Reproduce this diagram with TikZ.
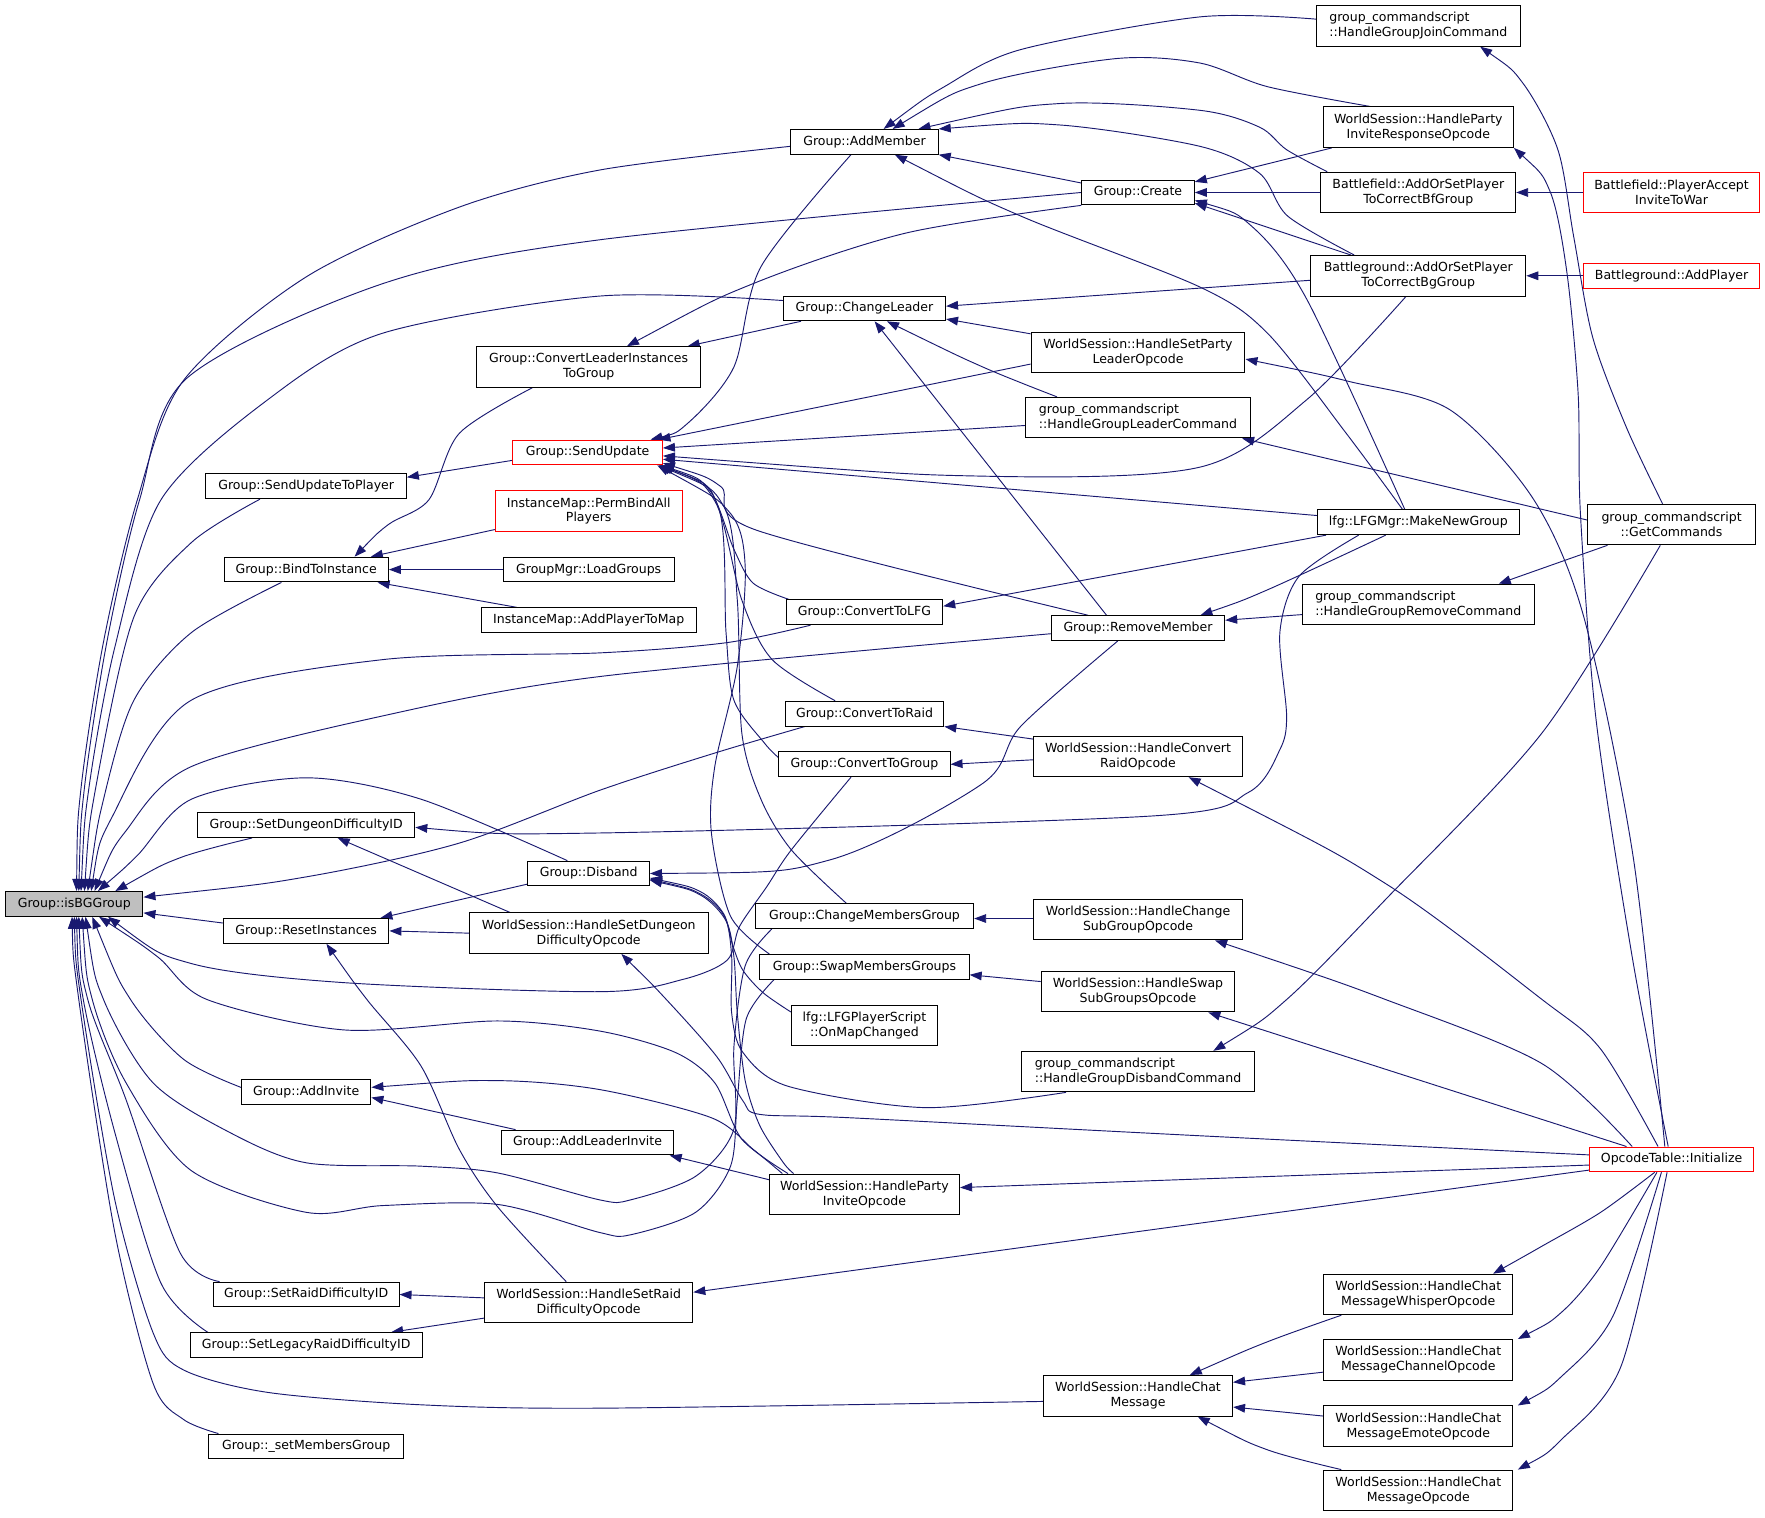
\documentclass[tikz,border=0pt]{standalone}
\usepackage{fontspec}
\setmainfont{DejaVu Sans}
\usetikzlibrary{arrows.meta,calc,backgrounds}
\definecolor{edgeblue}{HTML}{191970}
\definecolor{boxred}{HTML}{FF0000}
\newdimen\unitlen
\unitlen=0.8443pt

\tikzset{
  box/.style={draw=black, line width=0.75pt, fill=white, inner sep=0pt,
    minimum height=22\unitlen, font=\fontsize{9.4}{11.2}\selectfont},
  box2/.style={box, minimum height=36\unitlen, align=center},
  boxl/.style={box, minimum height=36\unitlen, align=left},
  redbox/.style={draw=boxred},
  call/.style={draw=edgeblue, line width=0.7pt, {Triangle[length=9pt,width=6.5pt]}-},
}

\begin{document}
\begin{tikzpicture}[x=0.8443pt, y=-0.8443pt]
  \useasboundingbox (0,0) rectangle (1568,1348);

  % the function itself
  \node[box, fill=black!25, minimum width=122\unitlen] (isBG) at (66,803) {Group::isBGGroup};

  % first level
  \node[box, minimum width=178\unitlen] (sutp) at (272,432) {Group::SendUpdateToPlayer};
  \node[box, minimum width=146\unitlen] (bti) at (272,506) {Group::BindToInstance};
  \node[box, minimum width=193\unitlen] (sddi) at (272,733) {Group::SetDungeonDifficultyID};
  \node[box, minimum width=147\unitlen] (ri) at (272,827) {Group::ResetInstances};
  \node[box, minimum width=115\unitlen] (ai) at (272,970) {Group::AddInvite};
  \node[box, minimum width=165\unitlen] (srdi) at (272,1150) {Group::SetRaidDifficultyID};
  \node[box, minimum width=206\unitlen] (slrdi) at (272,1195) {Group::SetLegacyRaidDifficultyID};
  \node[box, minimum width=173\unitlen] (smg) at (272,1285) {Group::\_setMembersGroup};

  % second level
  \node[box2, minimum width=199\unitlen] (clitg) at (523,326) {Group::ConvertLeaderInstances\\ToGroup};
  \node[box, redbox, minimum width=133\unitlen] (su) at (522,402) {Group::SendUpdate};
  \node[box2, redbox, minimum width=166\unitlen] (pbap) at (523,454) {InstanceMap::PermBindAll\\Players};
  \node[box, minimum width=152\unitlen] (lg) at (523,506) {GroupMgr::LoadGroups};
  \node[box, minimum width=191\unitlen] (aptm) at (523,551) {InstanceMap::AddPlayerToMap};
  \node[box, minimum width=108\unitlen] (disb) at (523,776) {Group::Disband};
  \node[box2, minimum width=212\unitlen] (hsddo) at (523,829) {WorldSession::HandleSetDungeon\\DifficultyOpcode};
  \node[box, minimum width=153\unitlen] (ali) at (522,1015) {Group::AddLeaderInvite};
  \node[box2, minimum width=185\unitlen] (hsrdo) at (523,1157) {WorldSession::HandleSetRaid\\DifficultyOpcode};

  % third level
  \node[box, minimum width=131\unitlen] (am) at (768,126) {Group::AddMember};
  \node[box, minimum width=144\unitlen] (cl) at (768,274) {Group::ChangeLeader};
  \node[box, minimum width=139\unitlen] (ctlfg) at (768,544) {Group::ConvertToLFG};
  \node[box, minimum width=141\unitlen] (ctr) at (768,634) {Group::ConvertToRaid};
  \node[box, minimum width=152\unitlen] (ctg) at (768,679) {Group::ConvertToGroup};
  \node[box, minimum width=194\unitlen] (cmg) at (768,814) {Group::ChangeMembersGroup};
  \node[box, minimum width=186\unitlen] (smgs) at (768,859) {Group::SwapMembersGroups};
  \node[box2, minimum width=130\unitlen] (lfgps) at (768,911) {lfg::LFGPlayerScript\\::OnMapChanged};
  \node[box2, minimum width=169\unitlen] (hpio) at (768,1061) {WorldSession::HandleParty\\InviteOpcode};

  % fourth level
  \node[box, minimum width=100\unitlen] (cr) at (1011,171) {Group::Create};
  \node[box2, minimum width=190\unitlen] (hsplo) at (1011,313) {WorldSession::HandleSetParty\\LeaderOpcode};
  \node[boxl, minimum width=200\unitlen] (hglc) at (1011,371) {group\_commandscript\\::HandleGroupLeaderCommand};
  \node[box, minimum width=154\unitlen] (rm) at (1011,558) {Group::RemoveMember};
  \node[box2, minimum width=186\unitlen] (hcro) at (1011,672) {WorldSession::HandleConvert\\RaidOpcode};
  \node[box2, minimum width=186\unitlen] (hcsgo) at (1011,817) {WorldSession::HandleChange\\SubGroupOpcode};
  \node[box2, minimum width=172\unitlen] (hssgo) at (1011,881) {WorldSession::HandleSwap\\SubGroupsOpcode};
  \node[boxl, minimum width=207\unitlen] (hgdc) at (1011,952) {group\_commandscript\\::HandleGroupDisbandCommand};
  \node[box2, minimum width=168\unitlen] (hcm) at (1011,1240) {WorldSession::HandleChat\\Message};

  % fifth level
  \node[boxl, minimum width=181\unitlen] (hgjc) at (1260,23) {group\_commandscript\\::HandleGroupJoinCommand};
  \node[box2, minimum width=169\unitlen] (hpiro) at (1260,113) {WorldSession::HandleParty\\InviteResponseOpcode};
  \node[box2, minimum width=173\unitlen] (bfaos) at (1260,171) {Battlefield::AddOrSetPlayer\\ToCorrectBfGroup};
  \node[box2, minimum width=191\unitlen] (bgaos) at (1260,245) {Battleground::AddOrSetPlayer\\ToCorrectBgGroup};
  \node[box, minimum width=179\unitlen] (mng) at (1260,464) {lfg::LFGMgr::MakeNewGroup};
  \node[boxl, minimum width=206\unitlen] (hgrc) at (1260,537) {group\_commandscript\\::HandleGroupRemoveCommand};
  \node[box2, minimum width=168\unitlen] (hcmw) at (1260,1150) {WorldSession::HandleChat\\MessageWhisperOpcode};
  \node[box2, minimum width=168\unitlen] (hcmc) at (1260,1208) {WorldSession::HandleChat\\MessageChannelOpcode};
  \node[box2, minimum width=168\unitlen] (hcme) at (1260,1267) {WorldSession::HandleChat\\MessageEmoteOpcode};
  \node[box2, minimum width=168\unitlen] (hcmo) at (1260,1324) {WorldSession::HandleChat\\MessageOpcode};

  % last level
  \node[box2, redbox, minimum width=157\unitlen] (bfpa) at (1485,171) {Battlefield::PlayerAccept\\InviteToWar};
  \node[box, redbox, minimum width=157\unitlen] (bgap) at (1485,245) {Battleground::AddPlayer};
  \node[box2, minimum width=149\unitlen] (gc) at (1485,466) {group\_commandscript\\::GetCommands};
  \node[box, redbox, minimum width=145\unitlen] (oti) at (1485,1030) {OpcodeTable::Initialize};

  \begin{scope}[on background layer]
    \fill[white] (0,0) rectangle (1568,1348);

    % callers of Group::isBGGroup
    \draw[call] plot[smooth] coordinates {($(isBG.north)+(2,0)$) (72,700) (92,570) (122,444) (163,338) (272,246) (408,184) (533,151) ($(am.west)+(0,4)$)};
    \draw[call] plot[smooth] coordinates {($(isBG.north)+(4,0)$) (75,700) (95,570) (124,444) (166,336) (340,252) (533,213) (cr.west)};
    \draw[call] plot[smooth] coordinates {($(isBG.north)+(6,0)$) (79,700) (102,575) (143,444) (238,355) (340,296) (533,263) ($(cl.west)+(0,-7)$)};
    \draw[call] plot[smooth] coordinates {($(isBG.north)+(9,0)$) (85,700) (119,548) (170,482) ($(sutp.south)+(-41,0)$)};
    \draw[call] plot[smooth] coordinates {($(isBG.north)+(12,0)$) (92,710) (119,622) (170,562) ($(bti.south)+(-22,0)$)};
    \draw[call] plot[smooth] coordinates {($(isBG.north)+(15,0)$) (100,725) (170,622) (340,586) (533,580) (645,571) ($(ctlfg.south)+(-48,0)$)};
    \draw[call] plot[smooth] coordinates {($(isBG.north)+(18,0)$) (112,738) (170,681) (340,636) (533,601) ($(rm.west)+(0,5)$)};
    \draw[call] plot[smooth] coordinates {($(isBG.north)+(21,0)$) (122,760) (170,710) (272,691) (374,710) ($(disb.north)+(-19,0)$)};
    \draw[call] plot[smooth] coordinates {($(isBG.north east)+(-25,0)$) (160,762) ($(sddi.south)+(-48,0)$)};
    \draw[call] plot[smooth] coordinates {($(isBG.east)+(0,-6)$) (272,779) (408,749) (533,702) (635,669) ($(ctr.south)+(-53,0)$)};
    \draw[call] ($(isBG.east)+(0,8)$) -- ($(ri.west)+(0,-7)$);
    \draw[call] plot[smooth] coordinates {($(isBG.south)+(30,0)$) (170,856) (306,873) (533,881) (607,870) (646,853) (657,823) (681,788) (703,755) ($(ctg.south)+(-12,0)$)};
    \draw[call] plot[smooth] coordinates {($(isBG.south)+(22,0)$) (140,850) (184,888) (306,915) (442,907) (533,916) (600,935) (635,962) (659,1012) ($(hpio.north west)+(17,0)$)};
    \draw[call] plot[smooth] coordinates {($(isBG.south)+(16,0)$) (116,888) (163,941) ($(ai.west)+(0,-4)$)};
    \draw[call] plot[smooth] coordinates {($(isBG.south)+(10,0)$) (92,888) (136,962) (204,1006) (272,1033) (374,1036) (442,1042) (533,1066) (560,1066) (618,1045) (652,1003) (652,930) (662,858) ($(cmg.south west)+(15,0)$)};
    \draw[call] plot[smooth] coordinates {($(isBG.south)+(7,0)$) (82,888) (112,962) (170,1040) (272,1077) (340,1071) (442,1070) (533,1095) (560,1097) (618,1077) (649,1036) (655,977) (663,905) ($(smgs.south west)+(13,0)$)};
    \draw[call] plot[smooth] coordinates {($(isBG.south)+(4,0)$) (78,888) (112,977) (160,1113) ($(srdi.north west)+(6,0)$)};
    \draw[call] plot[smooth] coordinates {($(isBG.south)+(2,0)$) (74,888) (102,1006) (143,1140) ($(slrdi.north west)+(16,0)$)};
    \draw[call] plot[smooth] coordinates {(isBG.south) (72,888) (102,1066) (136,1184) (163,1217) (238,1237) (374,1248) (533,1251) ($(hcm.west)+(0,5)$)};
    \draw[call] plot[smooth] coordinates {($(isBG.south)+(-2,0)$) (70,888) (102,1095) (136,1229) (163,1261) ($(smg.north west)+(9,0)$)};

    % SendUpdateToPlayer and BindToInstance
    \draw[call] ($(sutp.east)+(0,-8)$) -- ($(su.west)+(0,7)$);
    \draw[call] plot[smooth] coordinates {($(bti.north)+(43,0)$) (345,466) (381,444) (408,385) ($(clitg.south)+(-50,0)$)};
    \draw[call] ($(bti.north east)+(-16,0)$) -- ($(pbap.south west)+(0,-2)$);
    \draw[call] (bti.east) -- (lg.west);
    \draw[call] ($(bti.south east)+(-10,0)$) -- ($(aptm.north west)+(32,0)$);

    % ConvertLeaderInstancesToGroup
    \draw[call] ($(clitg.north east)+(-12,0)$) -- ($(cl.south west)+(16,0)$);
    \draw[call] plot[smooth] coordinates {($(clitg.north)+(34,0)$) (669,252) (805,207) (cr.south west)};

    % SendUpdate
    \draw[call] plot[smooth] coordinates {($(su.north east)+(-11,0)$) (611,376) (652,326) (676,237) ($(am.south)+(-12,0)$)};
    \draw[call] ($(su.north east)+(-4,0)$) -- ($(hsplo.south west)+(0,-8)$);
    \draw[call] ($(su.east)+(0,-4)$) -- ($(hglc.west)+(0,7)$);
    \draw[call] plot[smooth] coordinates {($(su.east)+(0,3)$) (873,423) (1066,415) (1161,355) ($(bgaos.south)+(-11,0)$)};
    \draw[call] ($(su.east)+(0,6)$) -- ($(mng.west)+(0,-6)$);
    \draw[call] plot[smooth] coordinates {($(su.south east)+(0,-2)$) (640,432) (672,471) ($(rm.north west)+(33,0)$)};
    \draw[call] plot[smooth] coordinates {($(su.south east)+(-1,0)$) (630,435) (652,488) (669,518) ($(ctlfg.north west)+(3,0)$)};
    \draw[call] plot[smooth] coordinates {($(su.south east)+(-2,0)$) (635,445) (659,533) (686,586) ($(ctr.north)+(-26,0)$)};
    \draw[call] plot[smooth] coordinates {($(su.south east)+(-3,0)$) (638,450) (645,562) (652,622) (679,660) ($(ctg.west)+(0,-6)$)};
    \draw[call] plot[smooth] coordinates {($(su.south east)+(-4,0)$) (643,450) (655,533) (659,651) (676,710) (703,755) ($(cmg.north)+(-16,0)$)};
    \draw[call] plot[smooth] coordinates {($(su.south east)+(-5,0)$) (648,455) (662,503) (655,592) (635,681) (632,740) (649,814) ($(smgs.north west)+(9,0)$)};

    % RemoveMember and MakeNewGroup
    \draw[call] ($(rm.east)+(0,-7)$) -- ($(hgrc.west)+(0,9)$);
    \draw[call] plot[smooth] coordinates {($(rm.north east)+(-22,0)$) (1126,524) ($(mng.south)+(-29,0)$)};
    \draw[call] ($(cl.south)+(9,0)$) -- ($(rm.north)+(-28,0)$);
    \draw[call] plot[smooth] coordinates {(disb.east) (737,764) (873,696) (907,645) ($(rm.south)+(-18,0)$)};
    \draw[call] plot[smooth] coordinates {($(sddi.east)+(0,2)$) (533,740) (1022,725) (1109,704) (1137,666) (1143,636) (1137,562) (1154,512) ($(mng.south)+(-53,0)$)};
    \draw[call] ($(ctlfg.north east)+(0,6)$) -- ($(mng.south west)+(8,0)$);

    % ChangeLeader
    \draw[call] ($(cl.east)+(0,-2)$) -- ($(bgaos.west)+(0,4)$);
    \draw[call] ($(cl.south east)+(0,-2)$) -- ($(hsplo.north west)+(0,2)$);
    \draw[call] plot[smooth] coordinates {($(cl.south)+(20,0)$) (873,326) ($(hglc.north)+(-72,0)$)};

    % AddMember
    \draw[call] plot[smooth] coordinates {($(am.north)+(17,0)$) (839,77) (907,44) (1066,15) ($(hgjc.west)+(0,-6)$)};
    \draw[call] plot[smooth] coordinates {($(am.north)+(25,0)$) (873,74) (992,52) (1066,56) (1126,77) ($(hpiro.north west)+(42,0)$)};
    \draw[call] plot[smooth] coordinates {($(am.north east)+(-18,0)$) (941,92) (1066,98) (1119,113) (1143,133) ($(bfaos.north west)+(6,0)$)};
    \draw[call] plot[smooth] coordinates {(am.north east) (941,111) (1066,130) (1119,154) (1144,192) ($(bgaos.north west)+(39,0)$)};
    \draw[call] (am.south east) -- ($(cr.north west)+(0,3)$);
    \draw[call] plot[smooth] coordinates {($(am.south)+(27,0)$) (907,192) (1066,255) (1126,296) (1196,385) ($(mng.north)+(-14,0)$)};

    % Create
    \draw[call] ($(cr.north east)+(0,2)$) -- ($(hpiro.south west)+(8,0)$);
    \draw[call] (cr.east) -- (bfaos.west);
    \draw[call] ($(cr.south east)+(0,-2)$) -- ($(bgaos.north west)+(36,0)$);
    \draw[call] plot[smooth] coordinates {($(cr.east)+(0,7)$) (1112,201) (1161,266) ($(mng.north)+(-12,0)$)};

    % command tables and opcode table
    \draw[call] plot[smooth] coordinates {($(hgjc.south east)+(-36,0)$) (1353,74) (1384,133) (1398,210) (1415,300) (1445,380) ($(gc.north)+(-8,0)$)};
    \draw[call] plot[smooth] coordinates {(hpiro.south east) (1377,170) (1392,242) (1402,350) (1404,456) (1418,640) (1450,850) ($(oti.north)+(-3,0)$)};
    \draw[call] plot[smooth] coordinates {($(hsplo.east)+(0,6)$) (1199,339) (1288,364) (1362,443) (1407,548) (1451,762) ($(oti.north)+(-6,0)$)};
    \draw[call] ($(hglc.south east)+(-8,0)$) -- ($(gc.west)+(0,-4)$);
    \draw[call] ($(hgrc.north east)+(-32,0)$) -- ($(gc.south west)+(18,0)$);
    \draw[call] plot[smooth] coordinates {($(hgdc.north east)+(-37,0)$) (1143,888) (1231,799) (1370,651) ($(gc.south)+(-10,0)$)};
    \draw[call] (bgaos.east) -- (bgap.west);
    \draw[call] (bfaos.east) -- (bfpa.west);

    % converting groups
    \draw[call] (ctr.south east) -- ($(hcro.north west)+(0,3)$);
    \draw[call] (ctg.east) -- ($(hcro.west)+(0,3)$);
    \draw[call] plot[smooth] coordinates {($(hcro.south)+(45,0)$) (1231,785) (1370,888) (1422,932) ($(oti.north)+(-12,0)$)};
    \draw[call] ($(cmg.east)+(0,2)$) -- ($(hcsgo.west)+(0,-1)$);
    \draw[call] ($(smgs.east)+(0,7)$) -- ($(hssgo.west)+(0,-9)$);
    \draw[call] plot[smooth] coordinates {($(hcsgo.south east)+(-25,0)$) (1231,888) (1370,945) ($(oti.north)+(-35,0)$)};
    \draw[call] ($(hssgo.south east)+(-24,0)$) -- ($(oti.north)+(-40,0)$);

    % party invites
    \draw[call] ($(hpio.east)+(0,-6)$) -- ($(oti.west)+(0,5)$);
    \draw[call] ($(ali.south east)+(-4,0)$) -- ($(hpio.west)+(0,-13)$);
    \draw[call] plot[smooth] coordinates {($(ai.east)+(0,-4)$) (442,960) (533,968) (632,993) (669,1021) ($(hpio.north west)+(12,0)$)};
    \draw[call] ($(ai.east)+(0,5)$) -- ($(ali.north west)+(13,0)$);
    \draw[call] plot[smooth] coordinates {($(disb.east)+(0,6)$) (622,795) (645,818) (652,850) (655,900) (662,960) (675,1000) (696,1033) ($(hpio.north west)+(22,0)$)};

    % Disband
    \draw[call] plot[smooth] coordinates {($(disb.east)+(0,4)$) (622,792) (643,812) (651,840) (660,862) (678,882) ($(lfgps.west)+(0,-12)$)};
    \draw[call] plot[smooth] coordinates {($(disb.east)+(0,5)$) (622,794) (644,815) (650,850) (650,900) (660,935) (700,965) (822,984) ($(hgdc.south)+(-64,0)$)};
    \draw[call] ($(ri.north east)+(-8,0)$) -- ($(disb.south west)+(0,-2)$);

    % difficulty handlers
    \draw[call] ($(sddi.south)+(28,0)$) -- ($(hsddo.north)+(-70,0)$);
    \draw[call] (ri.east) -- (hsddo.west);
    \draw[call] plot[smooth] coordinates {($(hsddo.south)+(29,0)$) (592,888) (637,939) (660,978) (675,990) (755,993) (1066,1009) ($(oti.west)+(0,-4)$)};
    \draw[call] plot[smooth] coordinates {($(ri.south)+(18,0)$) (326,888) (374,947) (408,1021) (442,1072) ($(hsrdo.north)+(-20,0)$)};
    \draw[call] ($(hsrdo.east)+(0,-9)$) -- ($(oti.south west)+(0,-2)$);
    \draw[call] (srdi.east) -- ($(hsrdo.west)+(0,-4)$);
    \draw[call] ($(slrdi.north east)+(-28,0)$) -- ($(hsrdo.west)+(0,14)$);

    % chat messages
    \draw[call] plot[smooth] coordinates {($(hcm.north)+(46,0)$) (1126,1192) ($(hcmw.south west)+(16,0)$)};
    \draw[call] ($(hcm.east)+(0,-12)$) -- ($(hcmc.west)+(0,11)$);
    \draw[call] ($(hcm.east)+(0,10)$) -- ($(hcme.west)+(0,-9)$);
    \draw[call] plot[smooth] coordinates {($(hcm.south)+(53,0)$) (1126,1288) ($(hcmo.north west)+(16,0)$)};
    \draw[call] plot[smooth] coordinates {($(hcmw.north east)+(-18,0)$) (1370,1107) (1422,1077) ($(oti.south)+(-15,0)$)};
    \draw[call] plot[smooth] coordinates {($(hcmc.north east)+(4,0)$) (1387,1166) (1422,1125) ($(oti.south)+(-13,0)$)};
    \draw[call] plot[smooth] coordinates {($(hcme.north east)+(4,0)$) (1387,1223) (1433,1169) ($(oti.south)+(-9,0)$)};
    \draw[call] plot[smooth] coordinates {($(hcmo.north east)+(4,0)$) (1387,1279) (1440,1214) ($(oti.south)+(-4,0)$)};
  \end{scope}
\end{tikzpicture}
\end{document}
